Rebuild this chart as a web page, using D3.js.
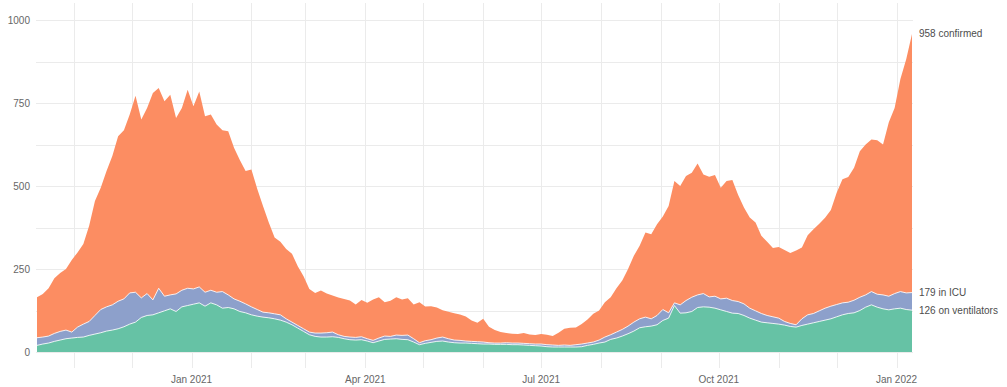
<!DOCTYPE html>
<html>
<head>
<meta charset="utf-8">
<script src="https://cdn.jsdelivr.net/npm/d3@7/dist/d3.min.js"></script>
<style>
  html, body { margin: 0; padding: 0; background: #fff; }
  svg { display: block; font-family: "Liberation Sans", Arial, sans-serif; }
</style>
</head>
<body>
<svg id="chart" width="1007" height="387"></svg>
<script>
// Hospital occupancy, sampled every third day from 13 Oct 2020
const startDate = "2020-10-13";
const stepDays = 3;

const confirmed = [
  165,175,192,222,238,250,277,300,325,380,
  455,495,545,590,650,668,715,772,700,735,
  780,795,755,775,705,735,790,740,785,710,
  715,685,668,665,615,578,545,550,492,440,
  390,345,332,310,296,258,228,190,178,185,
  176,170,164,160,155,143,157,148,158,165,
  150,154,165,158,162,143,150,137,138,134,
  126,121,117,113,107,95,88,100,76,66,
  60,57,55,54,57,53,51,54,52,48,
  58,70,73,74,84,98,115,125,150,165,
  192,215,250,290,320,360,355,385,408,440,
  515,500,530,540,568,535,528,533,495,515,
  518,473,435,405,390,350,332,313,316,307,
  298,306,315,352,370,386,404,428,480,520,
  527,555,605,625,640,638,625,692,735,822,
  882,958
];

const icu = [
  43,45,48,56,62,66,60,75,84,92,
  110,128,136,142,153,160,178,180,163,176,
  157,192,168,172,175,186,192,190,196,180,
  186,180,182,172,160,153,145,136,128,120,
  118,115,112,100,90,80,70,60,57,57,
  58,60,52,47,45,44,46,40,35,42,
  48,47,51,50,51,40,28,34,37,42,
  45,40,36,35,33,32,31,30,28,27,
  27,28,27,27,26,25,24,24,22,21,
  20,21,20,22,24,27,30,36,45,52,
  60,68,78,90,100,105,100,110,128,118,
  148,142,155,165,172,176,166,168,160,162,
  155,152,145,132,124,116,110,106,102,92,
  86,82,100,112,116,124,132,138,143,148,
  150,156,165,172,182,174,172,168,176,182,
  178,179
];

const ventilators = [
  20,24,27,32,36,40,42,44,45,50,
  54,58,63,66,70,76,84,90,104,110,
  112,118,124,130,122,136,140,144,148,138,
  148,142,132,134,130,122,118,112,108,105,
  103,100,96,90,82,72,62,52,47,45,
  45,46,44,40,37,36,37,33,28,33,
  38,39,40,38,37,30,22,26,29,32,
  33,30,28,27,27,26,25,24,24,23,
  23,23,22,22,21,20,19,18,16,15,
  15,15,15,15,16,20,23,27,30,38,
  42,48,55,63,73,76,78,82,95,102,
  140,117,118,122,134,136,135,132,127,122,
  117,116,110,102,96,90,88,86,84,81,
  77,75,80,84,88,92,96,100,106,112,
  116,118,125,135,142,135,130,127,130,132,
  128,126
];

const yTicks = [0, 250, 500, 750, 1000];
const yMinorTicks = [125, 375, 625, 875];
const seriesNames = ["confirmed", "in ICU", "on ventilators"];
const seriesColors = ["#fc8d62", "#8da0cb", "#66c2a5"];

const parse = d3.utcParse("%Y-%m-%d");
const t0 = parse(startDate);
const dates = confirmed.map((_, i) => d3.utcDay.offset(t0, i * stepDays));

const svg = d3.select("#chart");
const panel = { left: 37, right: 912, top: 3, bottom: 368 };

const x = d3.scaleUtc().domain(d3.extent(dates)).range([panel.left, panel.right]);
const y = d3.scaleLinear().domain([0, 1000]).range([352, 20]);

// grid
const grid = svg.append("g").attr("stroke", "#ebebeb").attr("stroke-width", 1);
const months = d3.utcMonth.range(dates[0], dates[dates.length - 1]);
grid.selectAll("line.v").data(months).join("line")
  .attr("x1", d => Math.round(x(d)) + 0.5).attr("x2", d => Math.round(x(d)) + 0.5)
  .attr("y1", panel.top).attr("y2", panel.bottom);
grid.selectAll("line.h").data(yTicks.concat(yMinorTicks)).join("line")
  .attr("x1", panel.left - 1).attr("x2", panel.right + 1)
  .attr("y1", d => Math.round(y(d)) + 0.5).attr("y2", d => Math.round(y(d)) + 0.5);

// areas, drawn from the largest series down
const series = [confirmed, icu, ventilators];
const area = vals => d3.area()
  .x((d, i) => x(dates[i]))
  .y0(y(0))
  .y1(d => y(d))(vals);
const line = vals => d3.line()
  .x((d, i) => x(dates[i]))
  .y(d => y(d))(vals);

series.forEach((vals, k) => {
  svg.append("path").attr("d", area(vals)).attr("fill", seriesColors[k]);
  if (k > 0) {
    svg.append("path").attr("d", line(vals))
      .attr("fill", "none").attr("stroke", "#fff")
      .attr("stroke-opacity", 0.85).attr("stroke-width", 1);
  }
});

// y axis labels
svg.append("g").selectAll("text").data(yTicks).join("text")
  .attr("x", 30).attr("y", d => y(d)).attr("dy", "0.35em")
  .attr("text-anchor", "end").attr("font-size", 10).attr("fill", "#666")
  .text(d => d);

// x axis labels (quarters)
const quarters = d3.utcMonth.every(3).range(dates[0], dates[dates.length - 1]);
const fmt = d3.utcFormat("%b %Y");
svg.append("g").selectAll("text").data(quarters).join("text")
  .attr("x", d => x(d)).attr("y", 383)
  .attr("text-anchor", "middle").attr("font-size", 10).attr("fill", "#666")
  .text(d => fmt(d));

// end labels
series.forEach((vals, k) => {
  const v = vals[vals.length - 1];
  svg.append("text")
    .attr("x", 919).attr("y", y(v)).attr("dy", "0.35em")
    .attr("font-size", 10).attr("fill", "#4d4d4d")
    .text(v + " " + seriesNames[k]);
});
</script>
</body>
</html>
